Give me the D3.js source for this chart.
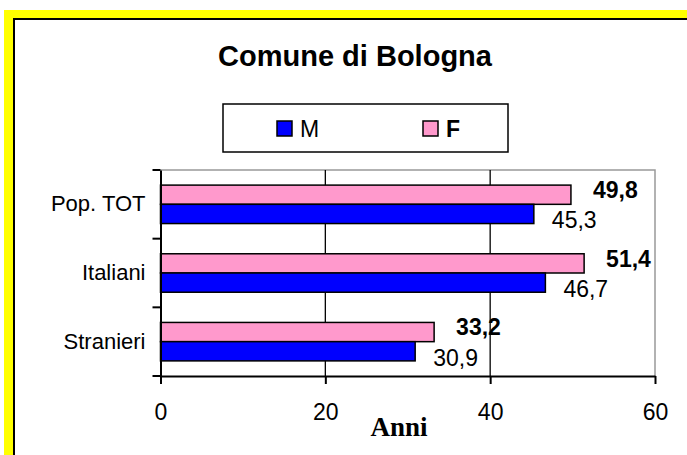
<!DOCTYPE html>
<html>
<head>
<meta charset="utf-8">
<script src="https://cdn.jsdelivr.net/npm/d3@7"></script>
<style>
  body { margin: 0; background: #fff; }
  svg { display: block; font-family: "Liberation Sans", Arial, sans-serif; }
</style>
</head>
<body>
<svg id="chart" width="687" height="455"></svg>
<script>
// data (anni, età media)
const categories = ["Pop. TOT", "Italiani", "Stranieri"];
const series = ["F", "M"];
const valuesM = [45.3, 46.7, 30.9];
const valuesF = [49.8, 51.4, 33.2];
const xTicks = [0, 20, 40, 60];

const colors = { M: "#0000ff", F: "#ff99cc" };
const fmt = v => v.toFixed(1).replace(".", ",");

const svg = d3.select("#chart");

// yellow frame with black inner line, runs off right and bottom
svg.append("rect").attr("x", 4).attr("y", 10).attr("width", 700).attr("height", 460).attr("fill", "#ffff00");
svg.append("rect").attr("x", 14).attr("y", 19).attr("width", 700).attr("height", 460)
    .attr("fill", "#fff").attr("stroke", "#000").attr("stroke-width", 2);

const plot = { left: 160.5, right: 655, top: 170, bottom: 376 };

const x = d3.scaleLinear().domain([0, 60]).range([plot.left, plot.right]);
const y = d3.scaleBand().domain(categories).range([plot.top, plot.bottom])
    .paddingInner(0.44).paddingOuter(0.22);
const ySub = d3.scaleBand().domain(series).range([0, y.bandwidth()]);

// plot frame: grey top / right
svg.append("path")
    .attr("d", `M${plot.left},${plot.top}H${plot.right}V${plot.bottom}`)
    .attr("fill", "none").attr("stroke", "#999").attr("stroke-width", 1.5);

// gridlines
svg.append("g").selectAll("line")
    .data(xTicks.filter(t => t > 0 && t < 60))
    .join("line")
    .attr("x1", d => x(d)).attr("x2", d => x(d))
    .attr("y1", plot.top).attr("y2", plot.bottom)
    .attr("stroke", "#000").attr("stroke-width", 1.3);

// bars
const rows = categories.map((c, i) => ({ cat: c, M: valuesM[i], F: valuesF[i] }));
const grp = svg.append("g").selectAll("g").data(rows).join("g")
    .attr("transform", d => `translate(0,${y(d.cat)})`);

grp.selectAll("rect")
    .data(d => series.map(s => ({ s, v: d[s] })))
    .join("rect")
    .attr("x", x(0))
    .attr("y", d => ySub(d.s))
    .attr("width", d => x(d.v) - x(0))
    .attr("height", ySub.bandwidth())
    .attr("fill", d => colors[d.s])
    .attr("stroke", "#000").attr("stroke-width", 1.5);

// value labels
grp.selectAll("text")
    .data(d => series.map(s => ({ s, v: d[s] })))
    .join("text")
    .attr("x", d => x(d.v) + (d.s === "F" ? 22 : 18))
    .attr("y", d => ySub(d.s) + ySub.bandwidth() / 2 + (d.s === "F" ? -5 : 6))
    .attr("dy", "0.36em")
    .attr("font-size", 23)
    .attr("font-weight", d => d.s === "F" ? "bold" : "normal")
    .text(d => fmt(d.v));

// x axis
const xAxis = svg.append("g")
    .attr("transform", `translate(0,${plot.bottom})`)
    .call(d3.axisBottom(x).tickValues(xTicks).tickSize(8).tickPadding(20).tickSizeOuter(0));
xAxis.select(".domain").attr("stroke", "#000").attr("stroke-width", 2);
xAxis.selectAll(".tick line").attr("stroke", "#000").attr("stroke-width", 2);
xAxis.selectAll(".tick text").attr("font-size", 23).attr("fill", "#000")
    .attr("font-family", "Liberation Sans, Arial, sans-serif");

// y axis: labels at band centres, ticks at band edges
const yAxis = svg.append("g")
    .attr("transform", `translate(${plot.left},0)`)
    .call(d3.axisLeft(y).tickSize(0).tickPadding(15));
yAxis.select(".domain").attr("stroke", "#000").attr("stroke-width", 2);
yAxis.selectAll(".tick text").attr("font-size", 22).attr("fill", "#000")
    .attr("font-family", "Liberation Sans, Arial, sans-serif");

const gap = (y.step() - y.bandwidth()) / 2;
const edges = [plot.top, ...categories.slice(1).map(c => y(c) - gap), plot.bottom];
svg.append("g").selectAll("line").data(edges).join("line")
    .attr("x1", plot.left - 8).attr("x2", plot.left)
    .attr("y1", d => d).attr("y2", d => d)
    .attr("stroke", "#000").attr("stroke-width", 2);

// title
svg.append("text")
    .attr("x", 355).attr("y", 66)
    .attr("text-anchor", "middle")
    .attr("font-size", 29).attr("font-weight", "bold")
    .text("Comune di Bologna");

// axis title
svg.append("text")
    .attr("x", 399).attr("y", 436)
    .attr("text-anchor", "middle")
    .attr("font-family", "Liberation Serif, Times New Roman, serif")
    .attr("font-size", 27).attr("font-weight", "bold")
    .text("Anni");

// legend
const legend = svg.append("g");
legend.append("rect")
    .attr("x", 223).attr("y", 104).attr("width", 285).attr("height", 48)
    .attr("fill", "#fff").attr("stroke", "#000").attr("stroke-width", 1.5);
const legItems = [
    { s: "M", sx: 277, bold: false },
    { s: "F", sx: 423, bold: true }
];
const li = legend.selectAll("g.item").data(legItems).join("g").attr("class", "item");
li.append("rect")
    .attr("x", d => d.sx).attr("y", 121).attr("width", 15).attr("height", 15)
    .attr("fill", d => colors[d.s]).attr("stroke", "#000").attr("stroke-width", 1.5);
li.append("text")
    .attr("x", d => d.sx + 23).attr("y", 128.5).attr("dy", "0.36em")
    .attr("font-size", 23)
    .attr("font-weight", d => d.bold ? "bold" : "normal")
    .text(d => d.s);
</script>
</body>
</html>
